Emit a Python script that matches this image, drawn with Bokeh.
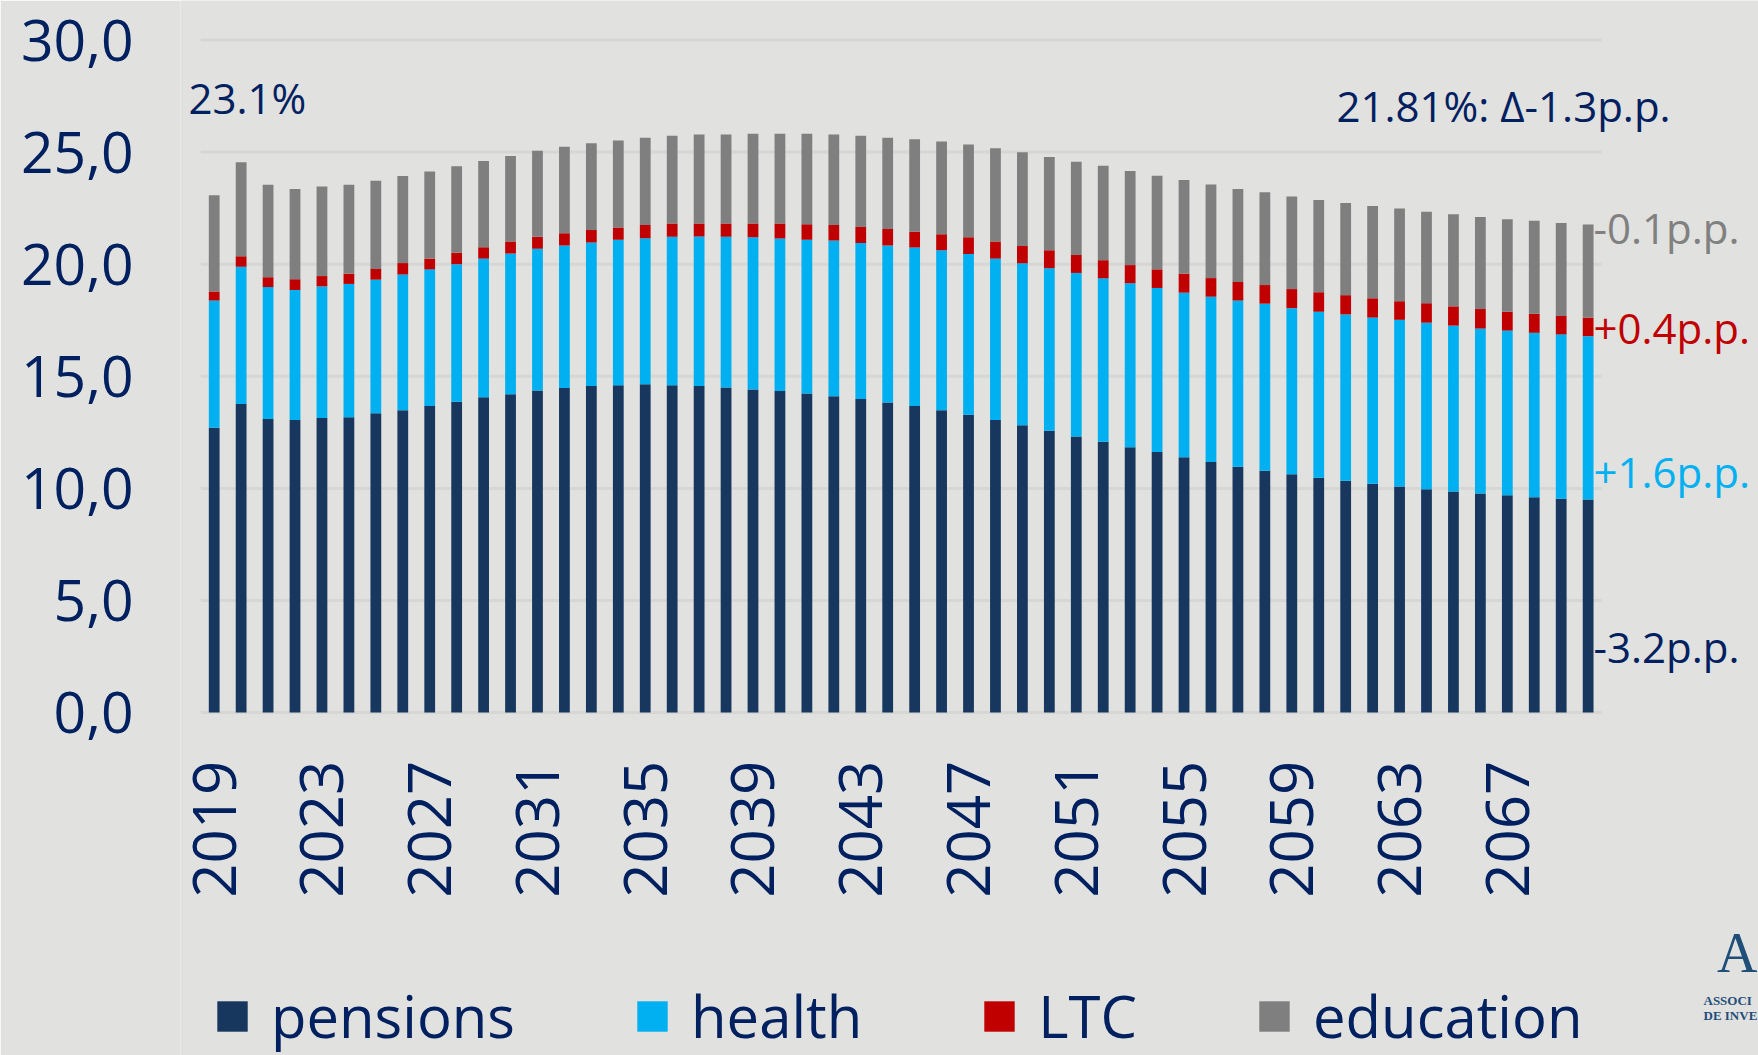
import math
from bokeh.plotting import figure
from bokeh.models import ColumnDataSource, FixedTicker, Range1d, Label, Legend
from bokeh.embed import file_html
from bokeh.resources import INLINE

# ---------------- data ----------------
years = list(range(2019, 2071))
pensions = [12.70, 13.76, 13.09, 13.05, 13.14, 13.17, 13.35, 13.49, 13.67, 13.86,
            14.06, 14.20, 14.37, 14.48, 14.57, 14.60, 14.64, 14.60, 14.57, 14.50,
            14.41, 14.34, 14.23, 14.11, 13.99, 13.83, 13.67, 13.49, 13.28, 13.05,
            12.82, 12.57, 12.31, 12.08, 11.83, 11.62, 11.39, 11.18, 10.97, 10.79,
            10.63, 10.47, 10.34, 10.21, 10.09, 9.96, 9.86, 9.77, 9.69, 9.60,
            9.54, 9.51]
health = [5.68, 6.13, 5.89, 5.80, 5.87, 5.95, 5.96, 6.05, 6.10, 6.14,
          6.19, 6.28, 6.32, 6.35, 6.40, 6.49, 6.52, 6.62, 6.66, 6.72,
          6.79, 6.81, 6.86, 6.95, 6.96, 7.00, 7.07, 7.13, 7.18, 7.20,
          7.22, 7.25, 7.30, 7.29, 7.32, 7.32, 7.34, 7.37, 7.41, 7.45,
          7.41, 7.41, 7.42, 7.41, 7.43, 7.43, 7.40, 7.36, 7.35, 7.34,
          7.33, 7.28]
ltc = [0.40, 0.46, 0.44, 0.48, 0.46, 0.46, 0.48, 0.51, 0.48, 0.51,
       0.51, 0.53, 0.53, 0.55, 0.55, 0.55, 0.59, 0.60, 0.59, 0.60,
       0.62, 0.67, 0.69, 0.69, 0.71, 0.74, 0.71, 0.72, 0.74, 0.76,
       0.77, 0.80, 0.80, 0.81, 0.81, 0.83, 0.85, 0.83, 0.83, 0.83,
       0.85, 0.87, 0.86, 0.86, 0.83, 0.87, 0.86, 0.87, 0.84, 0.85,
       0.82, 0.83]
education = [4.29, 4.20, 4.12, 4.02, 4.00, 3.96, 3.93, 3.88, 3.88, 3.86,
             3.84, 3.82, 3.84, 3.86, 3.88, 3.88, 3.89, 3.91, 3.96, 3.96,
             4.00, 4.00, 4.04, 4.03, 4.07, 4.07, 4.12, 4.13, 4.14, 4.16,
             4.18, 4.16, 4.16, 4.21, 4.20, 4.18, 4.18, 4.18, 4.14, 4.14,
             4.13, 4.11, 4.11, 4.12, 4.13, 4.08, 4.11, 4.10, 4.13, 4.15,
             4.15, 4.15]

series_names = ["pensions", "health", "LTC", "education"]
series_colors = ["#17375E", "#00B0F0", "#C00000", "#7F7F7F"]

x_tick_years = list(range(2019, 2068, 4))
x_tick_labels = [str(y) for y in x_tick_years]
y_ticks = [0, 5, 10, 15, 20, 25, 30]
y_tick_labels = ["0,0", "5,0", "10,0", "15,0", "20,0", "25,0", "30,0"]

start_label = "23.1%"
end_label = "21.81%: \u0394-1.3p.p."
change_labels = ["-3.2p.p.", "+1.6p.p.", "+0.4p.p.", "-0.1p.p."]
change_label_y = [2.95, 10.76, 17.19, 21.64]
change_label_colors = ["#002060", "#00B0F0", "#C00000", "#808080"]

# ---------------- layout / styling ----------------
W, H = 1758, 1055
FRAME_LEFT = 180
X0_PX, PX_PER_YEAR = 213.7, 26.94      # centre of first bar, bar pitch
Y0_PX, PX_PER_UNIT = 712.1, 22.42      # baseline, pixels per unit

BG = "#E1E1DF"
NAVY = "#002060"
FONT = "Open Sans"


def px_x(px):
    return years[0] + (px - X0_PX) / PX_PER_YEAR


def px_y(py):
    return (Y0_PX - py) / PX_PER_UNIT


source = ColumnDataSource(dict(year=years, pensions=pensions, health=health,
                               LTC=ltc, education=education))

p = figure(frame_width=W - FRAME_LEFT, frame_height=H,
           min_border_left=FRAME_LEFT, min_border_right=0,
           min_border_top=0, min_border_bottom=0,
           x_range=Range1d(px_x(FRAME_LEFT), px_x(W)),
           y_range=Range1d(px_y(H), px_y(0)),
           output_backend="svg", toolbar_location=None,
           background_fill_color=BG, border_fill_color=BG)
p.outline_line_color = None
p.xgrid.visible = False
p.ygrid.visible = False

# horizontal grid lines limited to the bar area
p.segment(x0=[years[0] - 0.5] * len(y_ticks), x1=[years[-1] + 0.5] * len(y_ticks),
          y0=y_ticks, y1=y_ticks, line_color="#D6D6D4", line_width=3)

renderers = p.vbar_stack(series_names, x="year", width=0.4, source=source,
                         color=series_colors, line_color=None)

# axes
p.xaxis.fixed_location = 0
p.xaxis.ticker = FixedTicker(ticks=x_tick_years)
p.xaxis.major_label_overrides = {y: l for y, l in zip(x_tick_years, x_tick_labels)}
p.xaxis.major_label_orientation = math.pi / 2
p.xaxis.major_label_text_font = FONT
p.xaxis.major_label_text_font_size = "60px"
p.xaxis.major_label_text_color = NAVY
p.xaxis.major_label_standoff = 48
p.xaxis.axis_line_color = None
p.xaxis.major_tick_line_color = None
p.xaxis.minor_tick_line_color = None
p.xaxis.major_tick_out = 0
p.xaxis.major_tick_in = 0

p.yaxis.ticker = FixedTicker(ticks=y_ticks)
p.yaxis.major_label_overrides = {t: l for t, l in zip(y_ticks, y_tick_labels)}
p.yaxis.major_label_text_font = FONT
p.yaxis.major_label_text_font_size = "57px"
p.yaxis.major_label_text_color = NAVY
p.yaxis.major_label_standoff = 47
p.yaxis.axis_line_color = None
p.yaxis.major_tick_line_color = None
p.yaxis.minor_tick_line_color = None
p.yaxis.major_tick_out = 0
p.yaxis.major_tick_in = 0

# annotations
p.add_layout(Label(x=px_x(188), y=px_y(97), text=start_label, text_font=FONT,
                   text_font_size="42px", text_color=NAVY,
                   text_baseline="alphabetic"))
p.add_layout(Label(x=px_x(1336), y=px_y(105), text=end_label, text_font=FONT,
                   text_font_size="42px", text_color=NAVY,
                   text_baseline="alphabetic"))
for txt, yy, col in zip(change_labels, change_label_y, change_label_colors):
    p.add_layout(Label(x=years[-1] + 0.2, y=yy, text=txt, text_font=FONT,
                       text_font_size="42px", text_color=col,
                       text_baseline="alphabetic"))

# logo fragment (bottom right)
LOGO = "#1F4E79"
p.add_layout(Label(x=px_x(1757), y=px_y(952), text="A", text_font="Liberation Serif",
                   text_font_size="56px", text_color=LOGO, text_align="right",
                   text_baseline="alphabetic"))
p.add_layout(Label(x=px_x(1703), y=px_y(1000), text="ASSOCI",
                   text_font="Liberation Serif", text_font_size="13px",
                   text_color=LOGO, text_font_style="bold", text_baseline="alphabetic"))
p.add_layout(Label(x=px_x(1703), y=px_y(1015), text="DE INVE",
                   text_font="Liberation Serif", text_font_size="13px",
                   text_color=LOGO, text_font_style="bold", text_baseline="alphabetic"))

# legend
legend = Legend(items=[(n, [r]) for n, r in zip(series_names, renderers)],
                orientation="horizontal", location=(213 - FRAME_LEFT, 0),
                padding=0, margin=0, spacing=118,
                glyph_width=38, glyph_height=38, label_standoff=20,
                label_text_font=FONT, label_text_font_size="58px",
                label_text_color=NAVY, background_fill_alpha=0,
                border_line_color=None)
p.add_layout(legend, "center")

html = file_html(p, INLINE)
html = html.replace("<body>", '<body style="background:%s">' % BG, 1)
open("out.html", "w").write(html)
